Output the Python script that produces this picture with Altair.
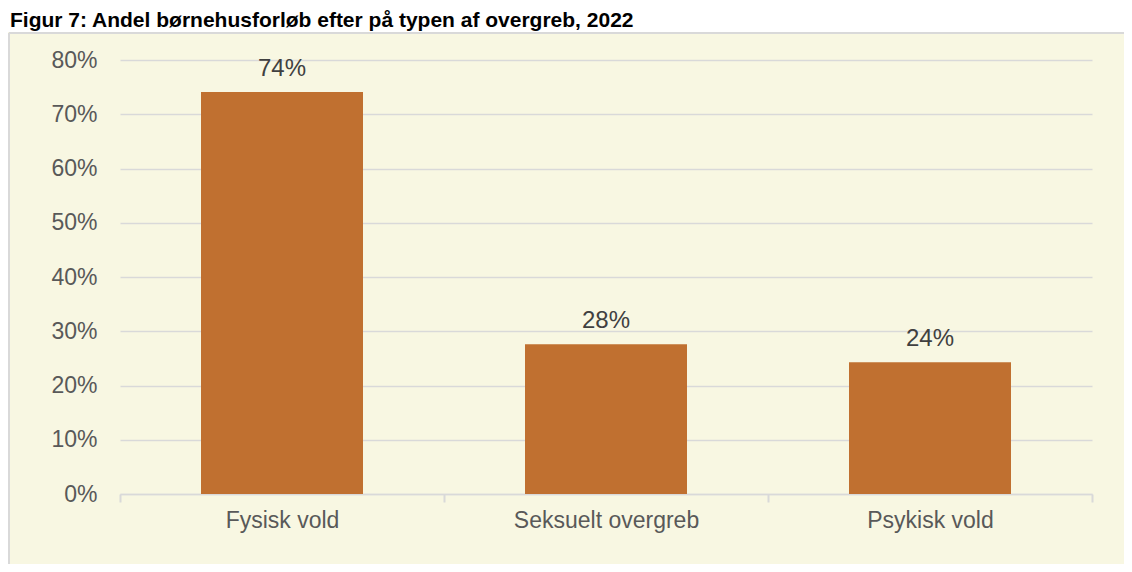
import altair as alt
import pandas as pd

categories = ["Fysisk vold", "Seksuelt overgreb", "Psykisk vold"]
values = [0.741, 0.276, 0.243]
y_ticks = [0, 0.1, 0.2, 0.3, 0.4, 0.5, 0.6, 0.7, 0.8]
title_text = "Figur 7: Andel børnehusforløb efter på typen af overgreb, 2022"

df = pd.DataFrame({"kategori": categories, "andel": values})

W, H = 972, 434
FONT = "Liberation Sans"
CREAM = "#F8F7E2"
GRID = "#D9D9D9"

base = alt.Chart(df)

# white strip above the panel and panel borders (decoration)
strip = base.mark_rect(fill="white").encode(
    x=alt.value(-112), x2=alt.value(W + 32), y=alt.value(-52), y2=alt.value(-28)
)
border_top = base.mark_rule(color=GRID, strokeWidth=2).encode(
    x=alt.value(-111), x2=alt.value(W + 32), y=alt.value(-27)
)
border_left = base.mark_rule(color=GRID, strokeWidth=2).encode(
    x=alt.value(-111), y=alt.value(-27), y2=alt.value(H + 70)
)

xenc = alt.X(
    "kategori:N",
    sort=categories,
    title=None,
    scale=alt.Scale(paddingInner=0, paddingOuter=0),
    axis=alt.Axis(
        labelAngle=0,
        labelFont=FONT,
        labelFontSize=23,
        labelColor="#595959",
        labelPadding=7,
        labelLimit=400,
        domainColor=GRID,
        domainWidth=1.5,
        tickColor=GRID,
        tickWidth=2,
        tickSize=8,
        tickBand="extent",
        grid=False,
    ),
)

bars = base.mark_bar(color="#C07030", width=alt.RelativeBandSize(0.5)).encode(
    x=xenc,
    y=alt.Y(
        "andel:Q",
        title=None,
        scale=alt.Scale(domain=[0, 0.8], nice=False),
        axis=alt.Axis(
            values=y_ticks,
            format=".0%",
            labelFont=FONT,
            labelFontSize=23,
            labelColor="#595959",
            labelPadding=23,
            domain=False,
            ticks=False,
            gridColor=GRID,
            gridWidth=1.5,
        ),
    ),
)

labels = base.mark_text(
    font=FONT, fontSize=24, color="#404040", baseline="alphabetic", dy=-16
).encode(
    x=alt.X("kategori:N", sort=categories),
    y=alt.Y("andel:Q"),
    text=alt.Text("andel:Q", format=".0%"),
)

chart = (
    alt.layer(strip, border_top, border_left, bars, labels)
    .properties(
        width=W,
        height=H,
        autosize=alt.AutoSizeParams(type="none"),
        padding={"left": 112, "top": 52, "right": 32, "bottom": 70},
        background=CREAM,
        title=alt.TitleParams(
            title_text,
            anchor="start",
            frame="group",
            font=FONT,
            fontSize=21,
            fontWeight="bold",
            color="black",
            dx=-110,
            dy=23,
            offset=0,
            zindex=1,
        ),
    )
    .configure_view(stroke=None)
)

chart.save("out.html", embed_options={"renderer": "svg", "actions": False})
